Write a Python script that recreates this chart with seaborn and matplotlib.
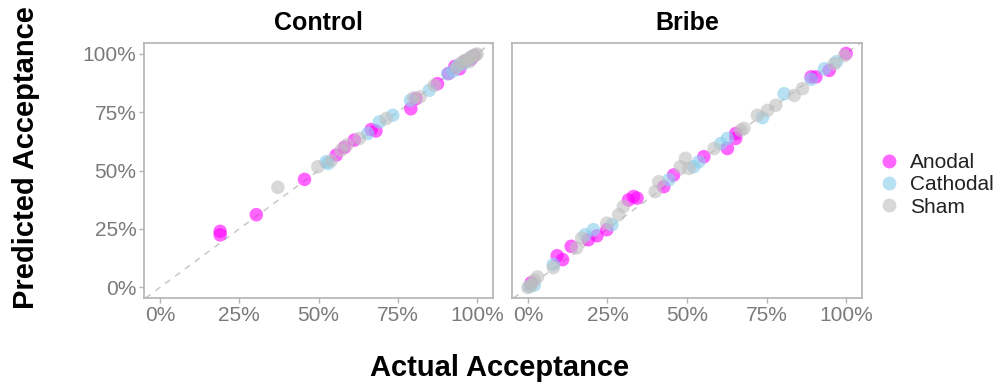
import matplotlib
matplotlib.use("Agg")
import matplotlib.pyplot as plt
from matplotlib.lines import Line2D
from matplotlib.ticker import FixedLocator
import seaborn as sns
import pandas as pd

sns.set_theme(style="white")
plt.rcParams["font.family"] = ["Liberation Sans", "DejaVu Sans"]

panels = ["Control", "Bribe"]
conditions = ["Anodal", "Cathodal", "Sham"]
tick_values = [0.0, 0.25, 0.5, 0.75, 1.0]
tick_labels = ["0%", "25%", "50%", "75%", "100%"]

# Control block: actual vs predicted acceptance rates per stimulation group
control_anodal_actual = [0.19, 0.19, 0.304, 0.456, 0.556, 0.582, 0.613, 0.666, 0.681, 0.791, 0.807, 0.875, 0.91, 0.93, 0.945, 0.96, 0.98, 0.99]
control_anodal_pred = [0.24, 0.225, 0.311, 0.462, 0.566, 0.599, 0.63, 0.675, 0.669, 0.764, 0.807, 0.871, 0.915, 0.945, 0.935, 0.965, 0.975, 0.99]
control_cathodal_actual = [0.53, 0.524, 0.655, 0.692, 0.734, 0.79, 0.849, 0.907, 0.925, 0.94, 0.955, 0.97, 0.985]
control_cathodal_pred = [0.53, 0.537, 0.658, 0.708, 0.736, 0.80, 0.843, 0.913, 0.925, 0.95, 0.955, 0.97, 0.985]
control_sham_actual = [0.372, 0.498, 0.54, 0.571, 0.59, 0.629, 0.713, 0.80, 0.82, 0.865, 0.935, 0.95, 0.96, 0.97, 0.98, 0.99, 1.0, 0.995, 0.975]
control_sham_pred = [0.428, 0.516, 0.542, 0.587, 0.61, 0.637, 0.722, 0.81, 0.815, 0.864, 0.94, 0.96, 0.97, 0.975, 0.985, 0.99, 0.998, 0.995, 0.965]

# Bribe block
bribe_anodal_actual = [0.092, 0.109, 0.136, 0.19, 0.217, 0.248, 0.316, 0.332, 0.343, 0.427, 0.458, 0.553, 0.627, 0.653, 0.653, 0.89, 0.905, 0.947, 0.01, 1.0]
bribe_anodal_pred = [0.136, 0.119, 0.176, 0.204, 0.221, 0.247, 0.374, 0.389, 0.382, 0.431, 0.481, 0.559, 0.594, 0.658, 0.637, 0.9, 0.9, 0.928, 0.02, 1.0]
bribe_cathodal_actual = [0.08, 0.18, 0.206, 0.264, 0.443, 0.521, 0.537, 0.606, 0.627, 0.737, 0.805, 0.89, 0.932, 0.97, 0.005, 0.02]
bribe_cathodal_pred = [0.098, 0.225, 0.247, 0.268, 0.46, 0.516, 0.537, 0.615, 0.637, 0.726, 0.828, 0.89, 0.935, 0.965, 0.005, 0.01]
bribe_sham_actual = [0.0, 0.01, 0.02, 0.03, 0.08, 0.153, 0.169, 0.248, 0.285, 0.30, 0.40, 0.411, 0.479, 0.495, 0.506, 0.585, 0.669, 0.679, 0.721, 0.753, 0.779, 0.837, 0.863, 0.963, 0.995]
bribe_sham_pred = [0.0, 0.01, 0.03, 0.045, 0.085, 0.169, 0.211, 0.275, 0.311, 0.346, 0.41, 0.452, 0.516, 0.552, 0.509, 0.594, 0.672, 0.68, 0.736, 0.757, 0.779, 0.821, 0.85, 0.956, 0.991]

series = {
    ("Control", "Anodal"): (control_anodal_actual, control_anodal_pred),
    ("Control", "Cathodal"): (control_cathodal_actual, control_cathodal_pred),
    ("Control", "Sham"): (control_sham_actual, control_sham_pred),
    ("Bribe", "Anodal"): (bribe_anodal_actual, bribe_anodal_pred),
    ("Bribe", "Cathodal"): (bribe_cathodal_actual, bribe_cathodal_pred),
    ("Bribe", "Sham"): (bribe_sham_actual, bribe_sham_pred),
}

rows = []
for (panel, cond), (xs, ys) in series.items():
    for x, y in zip(xs, ys):
        rows.append({"panel": panel, "condition": cond, "actual": x, "predicted": y})
df = pd.DataFrame(rows)

palette = {"Anodal": "#FF00FF", "Cathodal": "#87CEEB", "Sham": "#BEBEBE"}
point_alpha = 0.6
frame_color = "#B3B3B3"
tick_color = "#7A7A7A"

W, H = 1006, 390
fig = plt.figure(figsize=(W / 100, H / 100), dpi=100)
fig.patch.set_facecolor("white")

boxes = {"Control": (144, 43, 493, 298), "Bribe": (512, 43, 862, 298)}

for panel in panels:
    l, t, r, b = boxes[panel]
    ax = fig.add_axes([l / W, 1 - b / H, (r - l) / W, (b - t) / H])
    ax.set_facecolor("white")
    ax.axline((0, 0), slope=1, color="#C8C8C8", linestyle=(0, (4, 4)), linewidth=1.1, zorder=1)
    sub = df[df["panel"] == panel]
    sns.scatterplot(data=sub, x="actual", y="predicted", hue="condition",
                    hue_order=conditions, palette=palette, s=95, alpha=point_alpha,
                    edgecolor="none", linewidth=0, legend=False, ax=ax, zorder=2)
    ax.set_xlim(-0.05, 1.05)
    ax.set_ylim(-0.045, 1.045)
    ax.xaxis.set_major_locator(FixedLocator(tick_values))
    ax.yaxis.set_major_locator(FixedLocator(tick_values))
    ax.set_xticklabels(tick_labels)
    if panel == "Control":
        ax.set_yticklabels(tick_labels)
    else:
        ax.set_yticklabels([])
    ax.tick_params(axis="both", which="major", length=3.5, width=1, color=frame_color,
                   labelcolor=tick_color, labelsize=15, pad=2, bottom=True, left=True)
    if panel == "Bribe":
        ax.tick_params(axis="y", left=False)
    for sp in ax.spines.values():
        sp.set_color(frame_color)
        sp.set_linewidth(1.2)
    ax.set_xlabel("")
    ax.set_ylabel("")
    ax.set_title(panel, fontsize=18, fontweight="bold", color="black", pad=9)

fig.text(500 / W, 1 - 368 / H, "Actual Acceptance", ha="center", va="center",
         fontsize=21, fontweight="bold", color="black")
fig.text(26 / W, 1 - 158 / H, "Predicted Acceptance", ha="center", va="center",
         rotation=90, fontsize=21, fontweight="bold", color="black")

handles = [Line2D([0], [0], marker="o", linestyle="", markersize=10,
                  markerfacecolor=palette[c], markeredgecolor="none", alpha=point_alpha, label=c)
           for c in conditions]
leg = fig.legend(handles=handles, loc="center left", bbox_to_anchor=(868 / W, 1 - 185 / H),
                 frameon=False, fontsize=15, handletextpad=0.4, labelspacing=0.15,
                 borderaxespad=0, handlelength=1.2)
for txt in leg.get_texts():
    txt.set_color("#222222")

fig.savefig("out.png", dpi=100, facecolor="white")
